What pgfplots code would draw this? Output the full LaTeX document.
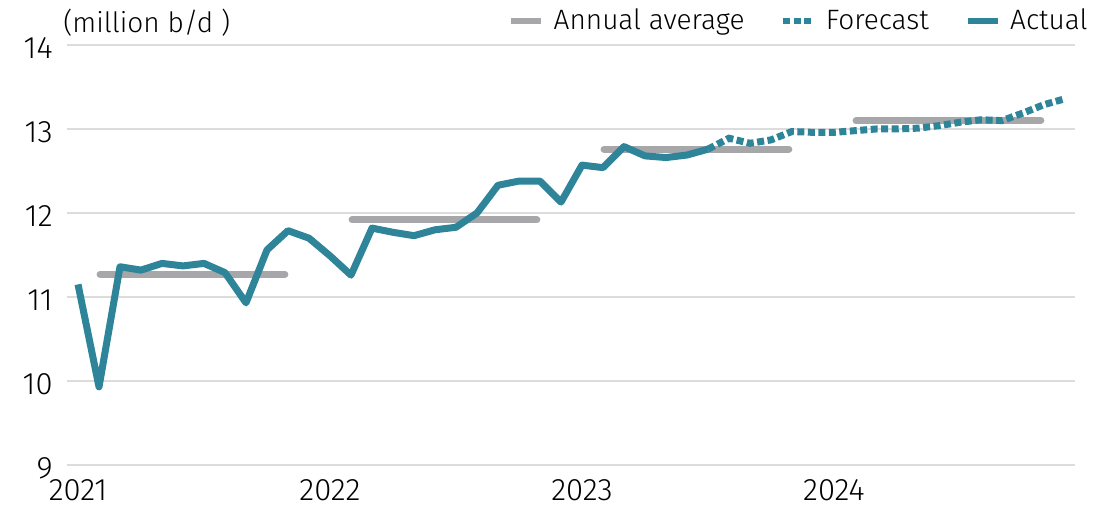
\documentclass[border=0pt]{standalone}
\usepackage{pgfplots}
\pgfplotsset{compat=1.18}
\usepackage{fontspec}
\setmainfont{Fira Sans Light}
\definecolor{actual}{HTML}{2E8599}
\definecolor{avggray}{HTML}{A7A7A9}
\definecolor{gridgray}{HTML}{DCDCDC}

\begin{document}
\begin{tikzpicture}
\begin{axis}[
    scale only axis, width=504pt, height=210pt,
    xmin=-0.524, xmax=47.476, ymin=9, ymax=14,
    clip=false,
    axis line style={draw=none}, major tick length=0pt,
    ytick={9,10,11,12,13,14},
    xtick={0,12,24,36}, xticklabels={2021,2022,2023,2024},
    ymajorgrids, grid style={gridgray, line width=1pt},
    font=\fontsize{14}{16}\selectfont,
    /pgf/number format/assume math mode=true,
    tick label style={font=\fontsize{15.5}{17}\selectfont},
    yticklabel style={anchor=east, inner sep=0pt, xshift=-7pt, yshift=-1.5pt},
    xticklabel style={anchor=north, inner sep=0pt, yshift=-7pt},
    legend columns=3,
    legend style={draw=none, fill=none, at={(1,1)}, anchor=east,
        xshift=6.5pt, yshift=12pt, inner sep=0pt,
        nodes={inner sep=0pt},
        font=\fontsize{14}{16}\selectfont,
        /tikz/every odd column/.append style={column sep=5pt},
        /tikz/every even column/.append style={column sep=18pt}},
    legend image code/.code={\draw[#1] (0pt,0pt) -- (15pt,0pt);},
]
\addlegendimage{avggray, line width=2.6pt}
\addlegendentry{Annual average}
\addlegendimage{actual, line width=2.6pt, dash pattern=on 3.5pt off 1.75pt}
\addlegendentry{Forecast}
\addlegendimage{actual, line width=2.6pt}
\addlegendentry{Actual}

% annual averages
\addplot[avggray, line width=3.5pt, line cap=round, forget plot] coordinates {(1.05,11.27) (9.85,11.27)};
\addplot[avggray, line width=3.5pt, line cap=round, forget plot] coordinates {(13.05,11.92) (21.85,11.92)};
\addplot[avggray, line width=3.5pt, line cap=round, forget plot] coordinates {(25.05,12.76) (33.85,12.76)};
\addplot[avggray, line width=3.5pt, line cap=round, forget plot] coordinates {(37.05,13.10) (45.85,13.10)};

% actual
\addplot[actual, line width=3.5pt, line join=round, forget plot] coordinates {
(0,11.15) (1,9.93) (2,11.36) (3,11.32) (4,11.40) (5,11.37) (6,11.40) (7,11.29)
(8,10.93) (9,11.56) (10,11.79) (11,11.70) (12,11.49) (13,11.26) (14,11.82) (15,11.77)
(16,11.73) (17,11.80) (18,11.83) (19,12.00) (20,12.33) (21,12.38) (22,12.38) (23,12.13)
(24,12.57) (25,12.54) (26,12.79) (27,12.68) (28,12.66) (29,12.69) (30,12.76)};

% forecast
\addplot[actual, line width=3.5pt, dash pattern=on 3.5pt off 1.75pt, forget plot] coordinates {
(30,12.76) (31,12.89) (32,12.83) (33,12.87) (34,12.97) (35,12.96) (36,12.96) (37,12.98)
(38,13.00) (39,13.00) (40,13.01) (41,13.04) (42,13.08) (43,13.11) (44,13.10) (45,13.19)
(46,13.29) (47,13.36)};

\node[anchor=west, inner sep=0pt, xshift=-2pt, yshift=11pt] at (rel axis cs:0,1) {(million b/d )};
\end{axis}
\pgfresetboundingbox
\path (current axis.south west) ++(-33.5pt,-21.5pt) rectangle ++(559.5pt,254pt);
\end{tikzpicture}
\end{document}
